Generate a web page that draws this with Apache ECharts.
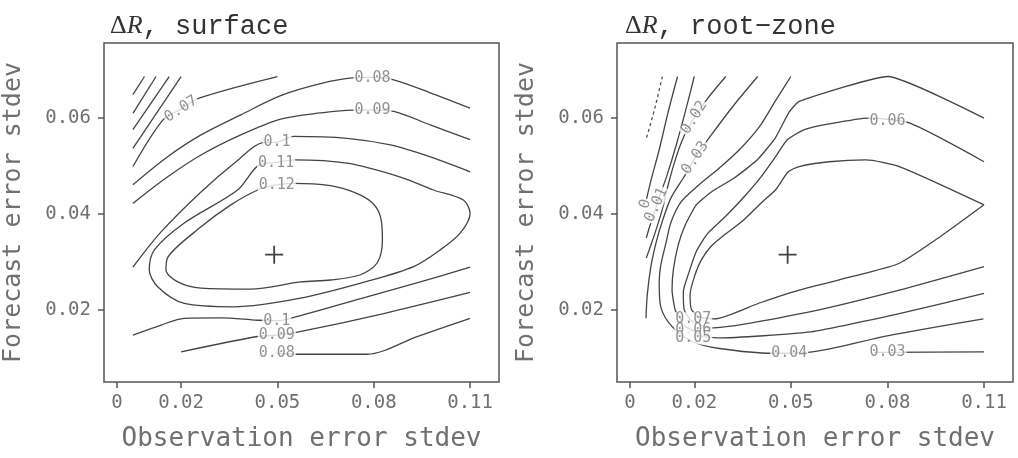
<!DOCTYPE html>
<html>
<head>
<meta charset="utf-8">
<script src="https://cdn.jsdelivr.net/npm/echarts@6/dist/echarts.min.js"></script>
<style>
  html, body { margin: 0; padding: 0; background: #fff; }
  #chart { width: 1018px; height: 458px; }
</style>
</head>
<body>
<div id="chart"></div>
<script>
// axis ticks
const xTicks = [0, 0.02, 0.05, 0.08, 0.11]
const yTicks = [0.02, 0.04, 0.06]

// the "+" (best point) in both panels
const bestPoint = [[0.049, 0.0315]]

// ---- Delta R, surface : contour lines ----
const sfcHatch1 = [[0.005, 0.0649], [0.0086, 0.0687]]
const sfcHatch2 = [[0.005, 0.061], [0.0122, 0.0687]]
const sfcHatch3 = [[0.005, 0.0576], [0.0163, 0.0687]]
const sfcHatch4 = [[0.005, 0.0537], [0.02, 0.0687]]
const sfc007 = [[0.005, 0.0499], [0.0143, 0.0596], [0.02, 0.0619], [0.0256, 0.0642], [0.05, 0.0687]]
const sfc008Top = [[0.005, 0.0461], [0.0153, 0.0517], [0.0262, 0.0565], [0.0386, 0.0607], [0.051, 0.0647], [0.0634, 0.0672],
  [0.0733, 0.0684], [0.0797, 0.0685], [0.0862, 0.068], [0.0976, 0.0653], [0.11, 0.0621]]
const sfc009Top = [[0.005, 0.0422], [0.0153, 0.0475], [0.0262, 0.0523], [0.0386, 0.0565], [0.051, 0.0598], [0.0634, 0.0611],
  [0.0733, 0.0617], [0.0797, 0.0617], [0.0862, 0.0614], [0.0976, 0.0586], [0.11, 0.0555]]
const sfc010Top = [[0.005, 0.0289], [0.0137, 0.0362], [0.0262, 0.0446], [0.0371, 0.0509], [0.0454, 0.0549], [0.0499, 0.055],
  [0.0551, 0.0562], [0.0717, 0.0558], [0.0852, 0.0544], [0.0976, 0.0519], [0.11, 0.0488]]
const sfc011 = [[0.0496, 0.0507], [0.0551, 0.0513], [0.0717, 0.0506], [0.0883, 0.0477], [0.0986, 0.045], [0.1079, 0.0429],
  [0.11, 0.0401], [0.1069, 0.036], [0.1007, 0.0325], [0.0924, 0.029], [0.0779, 0.0259], [0.0572, 0.0224], [0.0365, 0.0206],
  [0.021, 0.0213], [0.0127, 0.0248], [0.0101, 0.0283], [0.0117, 0.0325], [0.021, 0.0381], [0.0376, 0.045], [0.0442, 0.0502],
  [0.0496, 0.0507]]
const sfc012 = [[0.0498, 0.0461], [0.0551, 0.0464], [0.0665, 0.0459], [0.0743, 0.0444], [0.0796, 0.0423], [0.0821, 0.0394],
  [0.0827, 0.0346], [0.0811, 0.0298], [0.0759, 0.0273], [0.0665, 0.0262], [0.0572, 0.0258], [0.0417, 0.0243], [0.0262, 0.0245],
  [0.019, 0.0258], [0.0153, 0.0283], [0.0159, 0.031], [0.0262, 0.0373], [0.0355, 0.0419], [0.0439, 0.045], [0.0498, 0.0461]]
const sfc010Bot = [[0.005, 0.0147], [0.0138, 0.0168], [0.021, 0.0182], [0.0324, 0.0183], [0.0438, 0.0178], [0.0498, 0.0177],
  [0.0551, 0.0184], [0.0779, 0.0227], [0.0945, 0.0258], [0.11, 0.0289]]
const sfc009Bot = [[0.02, 0.0112], [0.0438, 0.0144], [0.0498, 0.0147], [0.0562, 0.0153], [0.0831, 0.0192], [0.11, 0.0236]]
const sfc008Bot = [[0.0498, 0.0109], [0.0562, 0.0107], [0.0779, 0.0107], [0.0935, 0.0144], [0.11, 0.0182]]
// contour labels: x, y, level
const sfcLabels = [
  [0.02, 0.0619, '0.07'],
  [0.0796, 0.0683, '0.08'],
  [0.0796, 0.0617, '0.09'],
  [0.0499, 0.055, '0.1'],
  [0.0496, 0.0507, '0.11'],
  [0.0498, 0.0461, '0.12'],
  [0.0498, 0.0177, '0.1'],
  [0.0498, 0.0147, '0.09'],
  [0.0498, 0.011, '0.08']
]

// ---- Delta R, root-zone ----
const rzNeg = [[0.0101, 0.0687], [0.0076, 0.0617], [0.005, 0.0555]]
const rz000 = [[0.0148, 0.0687], [0.0119, 0.0613], [0.0091, 0.0534], [0.0066, 0.0471], [0.0051, 0.0429]]
const rz001 = [[0.02, 0.0687], [0.0172, 0.0613], [0.0144, 0.0544], [0.0116, 0.0482], [0.0091, 0.0434], [0.0079, 0.0408],
  [0.0063, 0.0377], [0.0051, 0.035]]
const rz002 = [[0.0298, 0.0687], [0.024, 0.064], [0.02, 0.0601], [0.0166, 0.0559], [0.0141, 0.0513], [0.0119, 0.0461],
  [0.01, 0.0408], [0.0079, 0.0362], [0.006, 0.0325], [0.0051, 0.0308]]
const rz003 = [[0.0397, 0.0687], [0.0324, 0.0628], [0.0253, 0.0565], [0.0203, 0.0517], [0.0166, 0.0475], [0.0128, 0.0434],
  [0.01, 0.0383], [0.0081, 0.0339], [0.0065, 0.0289], [0.0054, 0.0231], [0.005, 0.0182]]
const rz003Bot = [[0.0759, 0.0111], [0.11, 0.0112]]
const rz004 = [[0.05, 0.0687], [0.0452, 0.0636], [0.0402, 0.0582], [0.034, 0.0534], [0.0278, 0.0496], [0.0215, 0.0461],
  [0.0159, 0.0425], [0.0128, 0.0383], [0.0112, 0.0339], [0.0096, 0.0293], [0.0091, 0.0256], [0.0096, 0.0206],
  [0.0132, 0.0164], [0.0195, 0.0133], [0.0278, 0.0119], [0.0443, 0.0109], [0.0554, 0.0111], [0.0803, 0.0146], [0.1098, 0.0181]]
const rz005 = [[0.11, 0.06], [0.0801, 0.0687], [0.0526, 0.0635], [0.0495, 0.0613], [0.0452, 0.0559], [0.0396, 0.0513],
  [0.0324, 0.0475], [0.0253, 0.0446], [0.0206, 0.0419], [0.0172, 0.0377], [0.015, 0.0335], [0.0135, 0.0283],
  [0.0131, 0.0241], [0.0141, 0.0199], [0.0172, 0.0166], [0.0225, 0.0145], [0.0278, 0.0141], [0.0554, 0.0153],
  [0.0837, 0.0192], [0.11, 0.0234]]
const rz006 = [[0.11, 0.0509], [0.0868, 0.059], [0.0741, 0.06], [0.0619, 0.0588], [0.0542, 0.0576], [0.0489, 0.0555],
  [0.0452, 0.0519], [0.0408, 0.0478], [0.0355, 0.0436], [0.0296, 0.0394], [0.0240, 0.0358], [0.0206, 0.0321],
  [0.0184, 0.0279], [0.0166, 0.0237], [0.0169, 0.0199], [0.0194, 0.0176], [0.0253, 0.0162], [0.0554, 0.0195],
  [0.0837, 0.0241], [0.11, 0.029]]
const rz007 = [[0.11, 0.0419], [0.0837, 0.0499], [0.0733, 0.0513], [0.0619, 0.0509], [0.0526, 0.0499], [0.0492, 0.0488],
  [0.0452, 0.045], [0.0411, 0.0425], [0.0346, 0.0383], [0.0293, 0.0356], [0.0253, 0.0333], [0.0222, 0.0304],
  [0.02, 0.0268], [0.0187, 0.0231], [0.0191, 0.0201], [0.0215, 0.0185], [0.0264, 0.0181], [0.0402, 0.0214],
  [0.0526, 0.0241], [0.0713, 0.0273], [0.0837, 0.0297], [0.0967, 0.0354], [0.11, 0.0419]]
const rzLabels = [
  [0.0048, 0.0421, '0'],
  [0.0082, 0.0419, '0.01'],
  [0.02, 0.0601, '0.02'],
  [0.0203, 0.0517, '0.03'],
  [0.08, 0.0594, '0.06'],
  [0.0197, 0.0181, '0.07'],
  [0.0197, 0.0158, '0.06'],
  [0.0197, 0.0141, '0.05'],
  [0.0495, 0.011, '0.04'],
  [0.08, 0.0111, '0.03']
]

// label tilt (degrees), same order as the label lists
const sfcTilt = [33, 0, 0, 0, 0, 0, 0, 0, 0]
const rzTilt = [72, 66, 58, 56, 0, 0, 0, 0, 0, 0]

const lineColor = '#444'
const frameColor = '#555'
const textGray = '#707070'
const monoFont = 'DejaVu Sans Mono'

const chart = echarts.init(document.getElementById('chart'), null, { renderer: 'canvas' })

function contour(data, idx, extra) {
  return Object.assign({
    type: 'line',
    xAxisIndex: idx,
    yAxisIndex: idx,
    data: data,
    symbol: 'none',
    smooth: 0.3,
    silent: true,
    z: 2,
    lineStyle: { color: lineColor, width: 1.3 }
  }, extra || {})
}

function labels(list, tilt, idx) {
  return {
    type: 'scatter',
    xAxisIndex: idx,
    yAxisIndex: idx,
    symbolSize: 1,
    silent: true,
    z: 3,
    itemStyle: { color: 'rgba(0,0,0,0)' },
    label: {
      show: true,
      position: 'inside',
      formatter: '{b}',
      fontFamily: monoFont,
      fontSize: 15,
      color: '#777',
      backgroundColor: '#fff',
      padding: [0, 1],
      lineHeight: 13
    },
    data: list.map((l, i) => ({ name: l[2], value: [l[0], l[1]], label: { rotate: tilt[i] } }))
  }
}

function plus(idx) {
  return {
    type: 'scatter',
    xAxisIndex: idx,
    yAxisIndex: idx,
    symbol: 'path://M9,0h2v20h-2z M0,9h20v2h-20z',
    symbolSize: 18,
    silent: true,
    z: 4,
    itemStyle: { color: '#111' },
    data: bestPoint
  }
}

function xAxis(idx) {
  return {
    gridIndex: idx,
    type: 'value',
    min: -0.004,
    max: 0.119,
    name: 'Observation error stdev',
    nameLocation: 'middle',
    nameGap: 44,
    nameTextStyle: { fontFamily: monoFont, fontSize: 26, color: textGray },
    axisLine: { show: false, onZero: false },
    axisTick: { show: true, customValues: xTicks, length: 6, lineStyle: { color: frameColor, width: 1.5 } },
    axisLabel: {
      customValues: xTicks,
      margin: 12,
      fontFamily: monoFont,
      fontSize: 19,
      color: textGray,
      formatter: v => String(+(+v).toFixed(3))
    },
    splitLine: { show: false }
  }
}

function yAxis(idx) {
  return {
    gridIndex: idx,
    type: 'value',
    min: 0.0049,
    max: 0.0757,
    name: 'Forecast error stdev',
    nameLocation: 'middle',
    nameGap: 78,
    nameRotate: 90,
    nameTextStyle: { fontFamily: monoFont, fontSize: 25, color: textGray },
    axisLine: { show: false, onZero: false },
    axisTick: { show: true, customValues: yTicks, length: 6, lineStyle: { color: frameColor, width: 1.5 } },
    axisLabel: {
      customValues: yTicks,
      margin: 13,
      fontFamily: monoFont,
      fontSize: 19,
      color: textGray,
      formatter: v => String(+(+v).toFixed(3))
    },
    splitLine: { show: false }
  }
}

const titleRich = {
  d: { fontFamily: 'Liberation Serif', fontSize: 26, fontWeight: 'normal', color: '#333' },
  r: { fontFamily: 'Liberation Serif', fontStyle: 'italic', fontWeight: 'normal', fontSize: 26, color: '#333' },
  t: { fontFamily: 'Liberation Mono', fontSize: 27, fontWeight: 'normal', color: '#333' }
}

const option = {
  animation: false,
  backgroundColor: '#fff',
  title: [
    { left: 105, top: 8, text: '{d|Δ}{r|R}{t|, surface}', textStyle: { fontWeight: 'normal', rich: titleRich } },
    { left: 620, top: 8, text: '{d|Δ}{r|R}{t|, root−zone}', textStyle: { fontWeight: 'normal', rich: titleRich } }
  ],
  grid: [
    { left: 103, top: 43, width: 396, height: 339, show: true, borderColor: frameColor, borderWidth: 1.5, backgroundColor: 'transparent' },
    { left: 617, top: 43, width: 396, height: 339, show: true, borderColor: frameColor, borderWidth: 1.5, backgroundColor: 'transparent' }
  ],
  xAxis: [xAxis(0), xAxis(1)],
  yAxis: [yAxis(0), yAxis(1)],
  series: [
    contour(sfcHatch1, 0), contour(sfcHatch2, 0), contour(sfcHatch3, 0), contour(sfcHatch4, 0),
    contour(sfc007, 0), contour(sfc008Top, 0), contour(sfc009Top, 0), contour(sfc010Top, 0),
    contour(sfc011, 0), contour(sfc012, 0),
    contour(sfc010Bot, 0), contour(sfc009Bot, 0), contour(sfc008Bot, 0),
    labels(sfcLabels, sfcTilt, 0),
    plus(0),

    contour(rzNeg, 1, { lineStyle: { color: lineColor, width: 1.2, type: [3, 3] } }),
    contour(rz000, 1), contour(rz001, 1), contour(rz002, 1), contour(rz003, 1), contour(rz003Bot, 1),
    contour(rz004, 1),
    contour(rz005, 1, { smooth: 0.15 }),
    contour(rz006, 1, { smooth: 0.2 }),
    contour(rz007, 1, { smooth: 0.2 }),
    labels(rzLabels, rzTilt, 1),
    plus(1)
  ]
}

chart.setOption(option)
</script>
</body>
</html>
